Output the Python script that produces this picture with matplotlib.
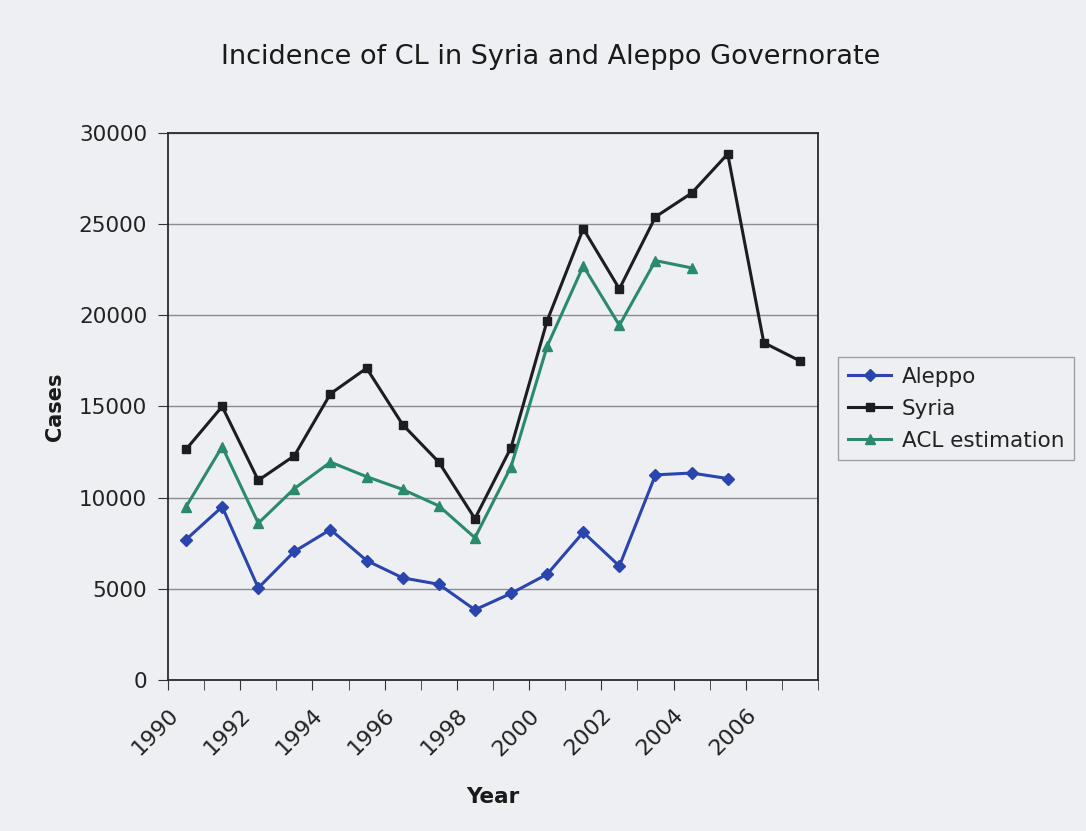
import matplotlib.pyplot as plt

years = list(range(1990, 2008))
aleppo = [7700, 9500, 5050, 7050, 8250, 6550, 5600, 5250, 3850, 4750, 5800, 8100, 6250, 11250, 11350, 11050]
syria = [12650, 15000, 10950, 12300, 15700, 17100, 14000, 11950, 8850, 12750, 19700, 24750, 21450, 25400, 26700, 28850, 18500, 17500]
acl = [9500, 12800, 8600, 10500, 11950, 11150, 10450, 9550, 7800, 11700, 18300, 22700, 19450, 23000, 22600]

bg = '#edeff3'
plt.rcParams['font.family'] = ['DejaVu Sans']

fig = plt.figure(figsize=(10.86, 8.31), dpi=100, facecolor=bg)
ax = fig.add_axes([0.1547, 0.1817, 0.5985, 0.6583])
ax.set_facecolor(bg)

# categories sit between the ticks, like an Excel category axis
pos = [i + 0.5 for i in range(len(years))]

ax.plot(pos[:len(aleppo)], aleppo, color='#2a45ad', lw=2.2, marker='D', ms=6, label='Aleppo', zorder=3)
ax.plot(pos[:len(syria)], syria, color='#1c1c22', lw=2.2, marker='s', ms=6, label='Syria', zorder=3)
ax.plot(pos[:len(acl)], acl, color='#2a8a6c', lw=2.2, marker='^', ms=7, label='ACL estimation', zorder=3)

ax.set_xlim(0, len(years))
ax.set_ylim(0, 30000)
ax.set_yticks(range(0, 30001, 5000))
ax.yaxis.grid(True, color='#8a8c92', lw=1)
ax.set_axisbelow(True)

ax.set_xticks(range(len(years) + 1), minor=True)
ax.set_xticks(range(0, len(years), 2))
ax.set_xticklabels([str(y) for y in years[::2]], rotation=45, ha='right', rotation_mode='anchor')
ax.tick_params(axis='x', which='both', direction='out', length=7, color='#333333')
ax.tick_params(axis='x', which='major', labelsize=16, pad=11, labelcolor='#222222')
ax.tick_params(axis='y', direction='out', length=7, labelsize=15.5, color='#333333', pad=8, labelcolor='#222222')

for s in ax.spines.values():
    s.set_color('#2a2a30')
    s.set_linewidth(1.3)

ax.set_xlabel('Year', fontsize=15.5, fontweight='bold', labelpad=20, color='#1a1a1a')
ax.set_ylabel('Cases', fontsize=15, fontweight='bold', labelpad=10, color='#1a1a1a')
fig.text(0.507, 0.931, 'Incidence of CL in Syria and Aleppo Governorate',
         ha='center', va='center', fontsize=19.5, color='#1a1a1a')

leg = fig.legend(loc='center left', bbox_to_anchor=(0.762, 0.508), fontsize=15.5,
                 frameon=True, fancybox=False, edgecolor='#8a8c92', facecolor=bg,
                 handlelength=2.0, borderpad=0.45, labelspacing=0.55, handletextpad=0.5)
leg.get_frame().set_linewidth(1)
for t in leg.get_texts():
    t.set_color('#222222')

plt.savefig('out.png', dpi=100, facecolor=bg)
plt.close(fig)
